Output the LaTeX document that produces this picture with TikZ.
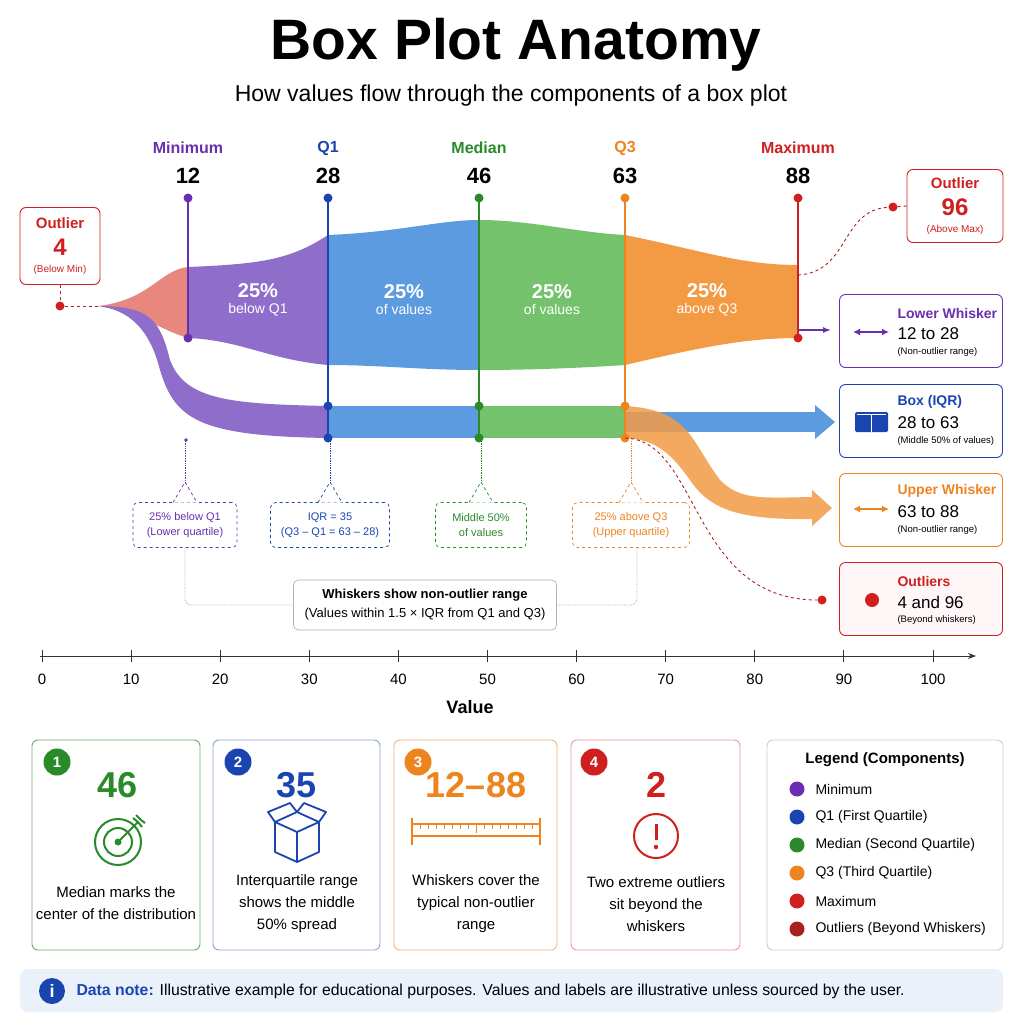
\documentclass[tikz,border=0pt]{standalone}
\usepackage{fontspec}
\setmainfont{Liberation Sans}
\usetikzlibrary{arrows.meta,calc}
\definecolor{cpur}{HTML}{6A2FB0}\definecolor{fpur}{HTML}{8F6DCB}
\definecolor{cblu}{HTML}{1A45B0}\definecolor{fblu}{HTML}{5C9BE0}
\definecolor{cgrn}{HTML}{2A8A2A}\definecolor{fgrn}{HTML}{74C26C}
\definecolor{corg}{HTML}{EE8420}\definecolor{forg}{HTML}{F39A45}
\definecolor{cred}{HTML}{D01F1F}\definecolor{fred}{HTML}{E8877E}
\definecolor{dred}{HTML}{A82020}\definecolor{note}{HTML}{EAF1FB}
\newcommand{\fs}[1]{\fontsize{#1}{#1}\selectfont}
\tikzset{x=1pt,y=-1pt,
 dotc/.style={circle,inner sep=0pt,minimum size=9pt},
 card/.style={draw,rounded corners=6pt,line width=0.9pt},
 ann/.style={draw,dashed,rounded corners=5pt,line width=0.7pt},
 lab/.style={font=\fs{16}\bfseries},
 num/.style={font=\fs{22}\bfseries},
 rt/.style={anchor=west,align=left},
}
\begin{document}
\begin{tikzpicture}
\useasboundingbox (0,0) rectangle (1024,1024);
\fill[white] (0,0) rectangle (1024,1024);
% title
\node (title) at (516,45) {\fs{57}\bfseries Box Plot Anatomy};
\node (sub) at (511,96) {\fs{23}How values flow through the components of a box plot};
% column labels
\foreach \n/\x/\c/\t/\v in {mn/188/cpur/Minimum/12,q1/328/cblu/Q1/28,md/479/cgrn/Median/46,q3/625/corg/Q3/63,mx/798/cred/Maximum/88}{
 \node[lab,text=\c] (l\n) at (\x,148) {\t};
 \node[num] (n\n) at (\x,176) {\v};
}
% flow band
\fill[fred] (98,306) .. controls (150,300) and (160,270) .. (188,267) -- (188,338) .. controls (160,330) and (140,312) .. (98,306) -- cycle;
\fill[fpur] (98,306) .. controls (150,306) and (160,320) .. (170,360) .. controls (185,400) and (230,404) .. (328,406) -- (328,438) .. controls (200,436) and (175,420) .. (160,370) .. controls (150,330) and (130,310) .. (98,306) -- cycle;
\fill[fpur] (188,267) .. controls (260,264) and (290,260) .. (328,235) -- (328,365) .. controls (270,360) and (240,340) .. (188,338) -- cycle;
\fill[fblu] (328,235) .. controls (400,232) and (440,220) .. (479,220) -- (479,370) .. controls (420,370) and (380,365) .. (328,365) -- cycle;
\fill[fgrn] (479,220) .. controls (530,220) and (580,233) .. (625,235) -- (625,365) .. controls (580,368) and (530,370) .. (479,370) -- cycle;
\fill[forg] (625,235) .. controls (700,250) and (740,265) .. (798,265) -- (798,338) .. controls (740,338) and (690,350) .. (625,365) -- cycle;
\node[text=white,align=center] (p1) at (258,300) {\fs{20}\bfseries 25\%\\[4pt]\fs{14}below Q1};
\node[text=white,align=center] (p2) at (404,300) {\fs{20}\bfseries 25\%\\[4pt]\fs{14}of values};
\node[text=white,align=center] (p3) at (552,300) {\fs{20}\bfseries 25\%\\[4pt]\fs{14}of values};
\node[text=white,align=center] (p4) at (707,300) {\fs{20}\bfseries 25\%\\[4pt]\fs{14}above Q3};
% box bar and flows
\fill[fblu] (625,412) rectangle (815,432);
\fill[fblu] (815,405) -- (835,422) -- (815,439) -- cycle;
\fill[forg,opacity=0.85] (625,406) .. controls (690,410) and (690,440) .. (720,480) .. controls (740,500) and (760,498) .. (812,497) -- (812,519) .. controls (740,520) and (710,510) .. (690,480) .. controls (665,445) and (650,440) .. (625,438) -- cycle;
\fill[forg,opacity=0.85] (812,490) -- (832,508) -- (812,526) -- cycle;
\fill[fblu] (328,406) rectangle (479,438);
\fill[fgrn] (479,406) rectangle (625,438);
% vertical lines
\draw[cpur,line width=1.2pt] (188,198) -- (188,338);
\draw[cblu,line width=1.2pt] (328,198) -- (328,438);
\draw[cgrn,line width=1.2pt] (479,198) -- (479,438);
\draw[corg,line width=1.2pt] (625,198) -- (625,438);
\draw[cred,line width=1.2pt] (798,198) -- (798,338);
\foreach \x/\c in {188/cpur,328/cblu,479/cgrn,625/corg,798/cred}{\node[dotc,fill=\c] at (\x,198) {};}
\node[dotc,fill=cpur] (mnb) at (188,338) {};
\node[dotc,fill=cred] (mxb) at (798,338) {};
\foreach \x/\c in {328/cblu,479/cgrn,625/corg}{\node[dotc,fill=\c] at (\x,406) {};\node[dotc,fill=\c] at (\x,438) {};}
% outliers
\node[card,draw=cred,align=center,minimum width=80pt,minimum height=77pt] (o4) at (60,246) {\textcolor{cred}{\fs{15}\bfseries Outlier}\\[9pt]\textcolor{cred}{\fs{24}\bfseries 4}\\[5pt]\textcolor{cred}{\fs{10}(Below Min)}};
\node[dotc,fill=cred] (d4) at (60,306) {};
\coordinate (f4) at (98,306);
\draw[dred,dashed,line width=0.9pt] (d4) -- (f4);
\draw[cred,dashed,line width=0.9pt] (o4.south) -- (d4);
\node[card,draw=cred,align=center,minimum width=96pt,minimum height=73pt] (o96) at (955,206) {\textcolor{cred}{\fs{15}\bfseries Outlier}\\[9pt]\textcolor{cred}{\fs{24}\bfseries 96}\\[5pt]\textcolor{cred}{\fs{10}(Above Max)}};
\node[dotc,fill=cred] (d96) at (893,207) {};
\draw[dred,dashed,line width=0.9pt] (d96) -- (o96.west);
\coordinate (mxo) at (798,275);
\draw[dred,dashed,line width=0.9pt] (mxo) .. controls (850,272) and (840,210) .. (d96);
\coordinate (q3b) at (625,438);
\node[dotc,fill=cred] (d2) at (822,600) {};
\draw[dred,dashed,line width=0.9pt] (q3b) .. controls (700,440) and (690,600) .. (d2);
\coordinate (lwa) at (798,330);
\coordinate (lwb) at (831,330);
\draw[cpur,line width=1.5pt,-{Latex[length=8pt]}] (lwa) -- (lwb);
% right boxes
\tikzset{rtitle/.style={rt,font=\fs{14}\bfseries},rval/.style={rt,font=\fs{17}},rsub/.style={rt,font=\fs{9.5}}}
\node[card,draw=cpur,minimum width=163pt,minimum height=73pt] (rb1) at (921,331) {};
\node[rtitle,text=cpur] at (894,313) {Lower Whisker};
\node[rval] at (894,334) {12 to 28};
\node[rsub] at (894,352) {(Non-outlier range)};
\draw[cpur,line width=1.5pt,{Latex[length=7pt,width=7pt]}-{Latex[length=7pt,width=7pt]}] (853,332) -- (889,332);
\node[card,draw=cblu,minimum width=163pt,minimum height=73pt] (rb2) at (921,421) {};
\node[rtitle,text=cblu] at (894,402) {Box (IQR)};
\node[rval] at (894,423) {28 to 63};
\node[rsub] at (894,441) {(Middle 50\% of values)};
\fill[cblu,rounded corners=1.5pt] (855,412) rectangle (888,432);
\draw[white,line width=1pt] (871,414) -- (871,432) (857,414) -- (886,414);
\node[card,draw=corg,minimum width=163pt,minimum height=73pt] (rb3) at (921,510) {};
\node[rtitle,text=corg] at (894,491) {Upper Whisker};
\node[rval] at (894,512) {63 to 88};
\node[rsub] at (894,530) {(Non-outlier range)};
\draw[corg,line width=1.5pt,{Latex[length=7pt,width=7pt]}-{Latex[length=7pt,width=7pt]}] (853,509) -- (889,509);
\node[card,draw=cred,fill=red!3,minimum width=163pt,minimum height=73pt] (rb4) at (921,599) {};
\node[rtitle,text=cred] at (894,581) {Outliers};
\node[rval] at (894,602) {4 and 96};
\node[rsub] at (894,620) {(Beyond whiskers)};
\fill[cred] (872,600) circle (7);
% annotations
\foreach \n/\x/\w/\c/\ta/\tb in {a1/185/104/cpur/25\% below Q1/(Lower quartile),a2/330/119/cblu/IQR = 35/(Q3 -- Q1 = 63 -- 28),a3/481/91/cgrn/Middle 50\%/of values,a4/631/117/corg/25\% above Q3/(Upper quartile)}{
 \node[ann,draw=\c,align=center,text=\c,minimum width=\w pt,minimum height=45pt,font=\fs{11}] (\n) at (\x,525) {\ta\\[4pt]\tb};
 \draw[\c,dashed,fill=white,line width=0.7pt] (\x-12,502.5) -- (\x,482) -- (\x+12,502.5);
 \draw[\c,densely dotted,line width=0.7pt] (\x,441) -- (\x,482);
}
\node[circle,fill=cpur,inner sep=1.3pt] at (186,440) {};
\node[ann,draw=gray!60,solid,align=center,minimum width=263pt,minimum height=50pt] (wh) at (425,605) {\fs{13}\bfseries Whiskers show non-outlier range\\[6pt]\fs{13}(Values within 1.5 × IQR from Q1 and Q3)};
\draw[gray!60,densely dotted,line width=0.8pt,rounded corners=6pt] (a1.south) -- (185,605) -- (wh.west);
\draw[gray!60,densely dotted,line width=0.8pt,rounded corners=6pt] (637,548) -- (637,605) -- (wh.east);
% axis
\coordinate (ax0) at (40,656); \coordinate (ax1) at (976,656);
\draw[black!80,line width=1pt,-{Stealth[length=8pt]}] (ax0) -- (ax1);
\foreach \i in {0,...,10}{
 \draw[black!80,line width=1pt] (42+89.1*\i,650) -- (42+89.1*\i,662);
 \pgfmathtruncatemacro\v{10*\i}
 \node[font=\fs{15}] at (42+89.1*\i,679) {\v};
}
\node[font=\fs{18}\bfseries] (val) at (470,707) {Value};
% cards
\node[card,draw=cgrn!70,minimum width=168pt,minimum height=210pt] (c1) at (116,845) {};
\node[card,draw=cblu!50,minimum width=167pt,minimum height=210pt] (c2) at (296.5,845) {};
\node[card,draw=corg!60,minimum width=163pt,minimum height=210pt] (c3) at (475.5,845) {};
\node[card,draw=cred!45,minimum width=169pt,minimum height=210pt] (c4) at (655.5,845) {};
\node[card,draw=gray!40,minimum width=236pt,minimum height=210pt] (c5) at (885,845) {};
\foreach \x/\c/\k in {57/cgrn/1,238/cblu/2,418/corg/3,594/cred/4}{\node[circle,fill=\c,text=white,minimum size=27pt,inner sep=0pt,font=\fs{15}\bfseries] at (\x,762) {\k};}
\node[text=cgrn,font=\fs{36}\bfseries] at (118,785) {46};
\node[text=cblu,font=\fs{36}\bfseries] at (297,785) {35};
\node[text=corg,font=\fs{36}\bfseries] at (476,785) {12--88};
\node[text=cred,font=\fs{36}\bfseries] at (656,785) {2};
% target icon
\begin{scope}[cgrn,line width=2pt]
\draw (118,842) circle (23); \draw (118,842) circle (14); \fill (118,842) circle (3.5);
\draw (118,842) -- (138,822); \draw (133,818) -- (138,822) -- (142,827) (136,815) -- (141,820) -- (145,823);
\end{scope}
% box icon
\begin{scope}[cblu,line width=1.8pt,line join=round]
\draw (275,822) -- (297,832) -- (319,822) (275,822) -- (275,852) -- (297,862) -- (319,852) -- (319,822) (297,832) -- (297,862);
\draw (275,822) -- (268,812) -- (290,803) -- (297,812) -- (304,803) -- (326,812) -- (319,822);
\draw (275,822) -- (297,812) -- (319,822);
\end{scope}
% ruler icon
\begin{scope}[corg,line width=1.8pt]
\draw (412,818) -- (412,845) (540,818) -- (540,845);
\draw (412,824) -- (540,824) (412,836) -- (540,836);
\foreach \t in {1,...,15}{\draw[line width=0.8pt] (412+8*\t,824) -- (412+8*\t,829);}
\draw[line width=1pt] (476,824) -- (476,833);
\end{scope}
% exclamation
\draw[cred,line width=2pt] (656,836) circle (22);
\draw[cred,line width=3pt] (656,824) -- (656,840); \fill[cred] (656,847) circle (2.2);
\node[align=center,font=\fs{15}] at (116,903) {Median marks the\\[7pt]center of the distribution};
\node[align=center,font=\fs{15}] at (297,904) {Interquartile range\\[7pt]shows the middle\\[7pt]50\% spread};
\node[align=center,font=\fs{15}] at (476,904) {Whiskers cover the\\[7pt]typical non-outlier\\[7pt]range};
\node[align=center,font=\fs{15}] at (656,904) {Two extreme outliers\\[7pt]sit beyond the\\[7pt]whiskers};
% legend
\node[font=\fs{15}\bfseries] at (885,760) {Legend (Components)};
\foreach \y/\c/\t in {789/cpur/Minimum,817/cblu/Q1 (First Quartile),845/cgrn/Median (Second Quartile),873/corg/Q3 (Third Quartile),901/cred/Maximum,929/dred/Outliers (Beyond Whiskers)}{
 \fill[\c] (797,\y) circle (7.5);
 \node[rt,font=\fs{14}] at (812,\y) {\t};
}
% note
\fill[note,rounded corners=8pt] (20,969) rectangle (1003,1012);
\node[circle,fill=cblu,text=white,minimum size=26pt,inner sep=0pt,font=\fs{18}\bfseries] (inf) at (52,991) {i};
\node[rt,font=\fs{15.8}] at (73,991) {\textcolor{cblu}{\bfseries Data note:} Illustrative example for educational purposes. Values and labels are illustrative unless sourced by the user.};
\end{tikzpicture}
\end{document}
